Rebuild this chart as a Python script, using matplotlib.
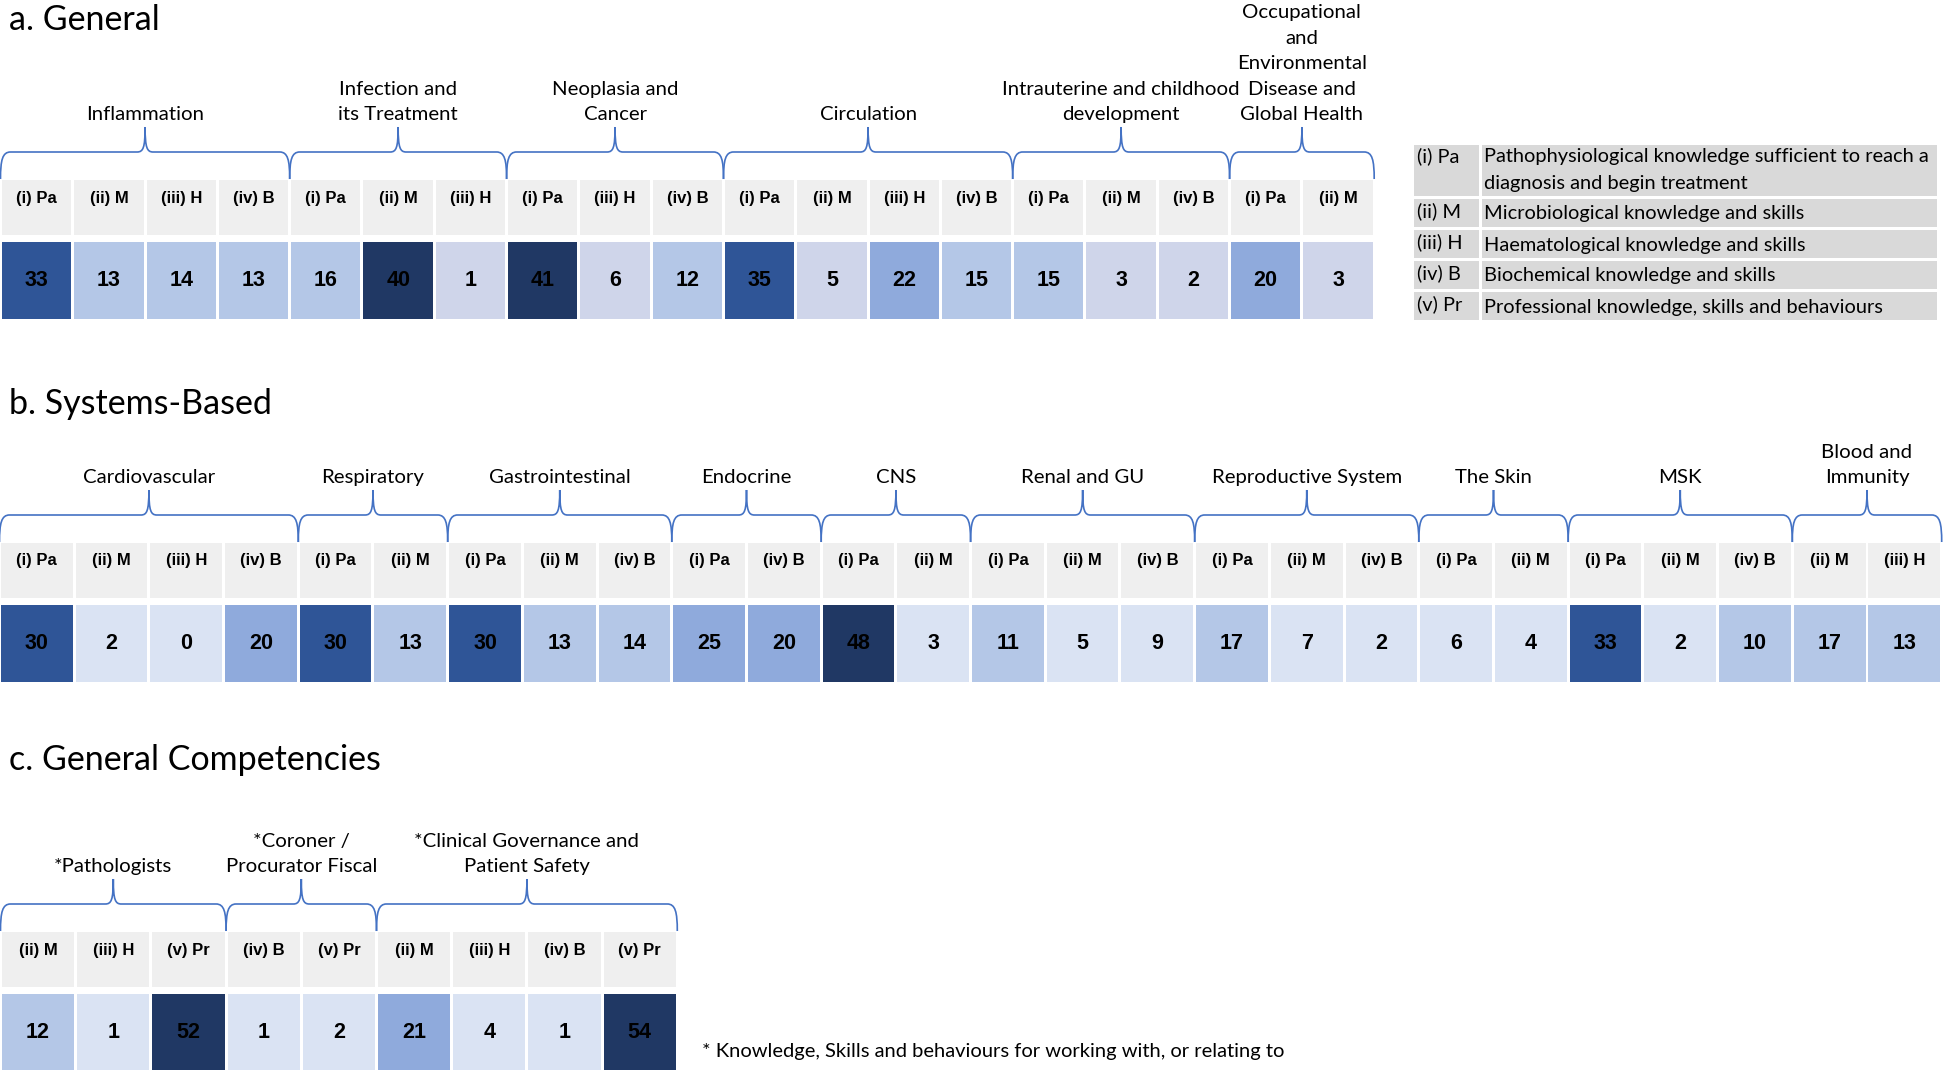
import matplotlib
matplotlib.use("Agg")
import matplotlib.pyplot as plt
from matplotlib.path import Path
from matplotlib.patches import PathPatch

# Dati
PA, M, H, B, PR = "(i) Pa", "(ii) M", "(iii) H", "(iv) B", "(v) Pr"

a_groups = ["Inflammation", "Infection and\nits Treatment", "Neoplasia and\nCancer",
            "Circulation", "Intrauterine and childhood\ndevelopment",
            "Occupational\nand\nEnvironmental\nDisease and\nGlobal Health"]
a_codes = [[PA, M, H, B], [PA, M, H], [PA, H, B], [PA, M, H, B], [PA, M, B], [PA, M]]
a_values = [[33, 13, 14, 13], [16, 40, 1], [41, 6, 12], [35, 5, 22, 15], [15, 3, 2], [20, 3]]

b_groups = ["Cardiovascular", "Respiratory", "Gastrointestinal", "Endocrine", "CNS",
            "Renal and GU", "Reproductive System", "The Skin", "MSK", "Blood and\nImmunity"]
b_codes = [[PA, M, H, B], [PA, M], [PA, M, B], [PA, B], [PA, M], [PA, M, B],
           [PA, M, B], [PA, M], [PA, M, B], [M, H]]
b_values = [[30, 2, 0, 20], [30, 13], [30, 13, 14], [25, 20], [48, 3], [11, 5, 9],
            [17, 7, 2], [6, 4], [33, 2, 10], [17, 13]]

c_groups = ["*Pathologists", "*Coroner /\nProcurator Fiscal",
            "*Clinical Governance and\nPatient Safety"]
c_codes = [[M, H, PR], [B, PR], [M, H, B, PR]]
c_values = [[12, 1, 52], [1, 2], [21, 4, 1, 54]]

legend_codes = [PA, M, H, B, PR]
legend_desc = ["Pathophysiological knowledge sufficient to reach a\ndiagnosis and begin treatment",
               "Microbiological knowledge and skills",
               "Haematological knowledge and skills",
               "Biochemical knowledge and skills",
               "Professional knowledge, skills and behaviours"]

footnote = "* Knowledge, Skills and behaviours for working with, or relating to"

# Stile
TXT = ["Lato", "DejaVu Sans"]
CELL = ["Liberation Sans", "DejaVu Sans"]
BLUE = "#4472C4"
HEAD = "#EFEFEF"
BINS = [10, 20, 30, 40]
SHADES = ["#B4C7E7", "#8FAADC", "#2F5597", "#203864"]


def shade(v, light):
    c = light
    for t, s in zip(BINS, SHADES):
        if v >= t:
            c = s
    return c


def brace(ax, xl, xr, yb, yl, yt):
    xm = (xl + xr) / 2
    verts = [(xl, yb), (xl, yl + 8), (xl + 2, yl), (xl + 10, yl),
             (xm - 8, yl),
             (xm - 2, yl), (xm, yl - 4), (xm, yt),
             (xm, yl - 4), (xm + 2, yl), (xm + 8, yl),
             (xr - 10, yl),
             (xr - 2, yl), (xr, yl + 8), (xr, yb)]
    codes = [Path.MOVETO, Path.CURVE4, Path.CURVE4, Path.CURVE4, Path.LINETO,
             Path.CURVE4, Path.CURVE4, Path.CURVE4,
             Path.CURVE4, Path.CURVE4, Path.CURVE4, Path.LINETO,
             Path.CURVE4, Path.CURVE4, Path.CURVE4]
    ax.add_patch(PathPatch(Path(verts, codes), fill=False, ec=BLUE, lw=1.2))


def section(ax, groups, codes, values, x0, pitch, y_head, light):
    w = pitch - 3
    h_head, gap, h_val = 55, 7, 77
    y_line, y_tip = y_head - 28, y_head - 53
    i = 0
    for g, cs, vs in zip(groups, codes, values):
        n = len(vs)
        xs = [x0 + (i + k) * pitch for k in range(n)]
        ax.bar(xs, h_head, bottom=y_head, width=w, align="edge", color=HEAD)
        ax.bar(xs, h_val, bottom=y_head + h_head + gap, width=w, align="edge",
               color=[shade(v, light) for v in vs])
        for x, c, v in zip(xs, cs, vs):
            ax.text(x + w / 2, y_head + 18, c, ha="center", va="center",
                    fontsize=12, fontweight="bold", family=CELL)
            ax.text(x + w / 2, y_head + h_head + gap + h_val / 2, str(v), ha="center",
                    va="center", fontsize=15.5, fontweight="bold", family=CELL)
        xl, xr = x0 + i * pitch - 1.5, x0 + (i + n) * pitch - 1.5
        brace(ax, xl, xr, y_head - 1, y_line, y_tip)
        ax.text((xl + xr) / 2, y_tip - 4, g, ha="center", va="bottom", fontsize=14.7,
                family=TXT, linespacing=1.6)
        i += n


fig = plt.figure(figsize=(19.45, 10.70), dpi=100)
ax = fig.add_axes([0, 0, 1, 1])
ax.set_xlim(0, 1945)
ax.set_ylim(1070, 0)
ax.axis("off")

ax.text(9, 20, "a. General", fontsize=24.5, family=TXT, va="center")
ax.text(9, 404, "b. Systems-Based", fontsize=24.5, family=TXT, va="center")
ax.text(9, 760, "c. General Competencies", fontsize=24.5, family=TXT, va="center")

section(ax, a_groups, a_codes, a_values, 2, 72.3, 180, "#CFD5EA")
section(ax, b_groups, b_codes, b_values, 1, 74.7, 543, "#DAE3F3")
section(ax, c_groups, c_codes, c_values, 2, 75.2, 932, "#DAE3F3")

# Legenda
row_top = [145, 199, 230, 261, 292]
row_h = [51, 28, 28, 28, 28]
ax.bar([1414] * 5, row_h, bottom=row_top, width=65, align="edge", color="#D9D9D9")
ax.bar([1482] * 5, row_h, bottom=row_top, width=455, align="edge", color="#D9D9D9")
for code, desc, t, h in zip(legend_codes, legend_desc, row_top, row_h):
    if "\n" in desc:
        ax.text(1417, t + 2, code, fontsize=14.4, family=TXT, va="top")
        ax.text(1484, t + 3, desc, fontsize=14.4, family=TXT, va="top", linespacing=1.7)
    else:
        ax.text(1417, t + h / 2 - 2, code, fontsize=14.4, family=TXT, va="center")
        ax.text(1484, t + h / 2 + 1, desc, fontsize=14.4, family=TXT, va="center")

ax.text(702, 1051, footnote, fontsize=14.5, family=TXT, va="center")

fig.savefig("out.png", dpi=100)
